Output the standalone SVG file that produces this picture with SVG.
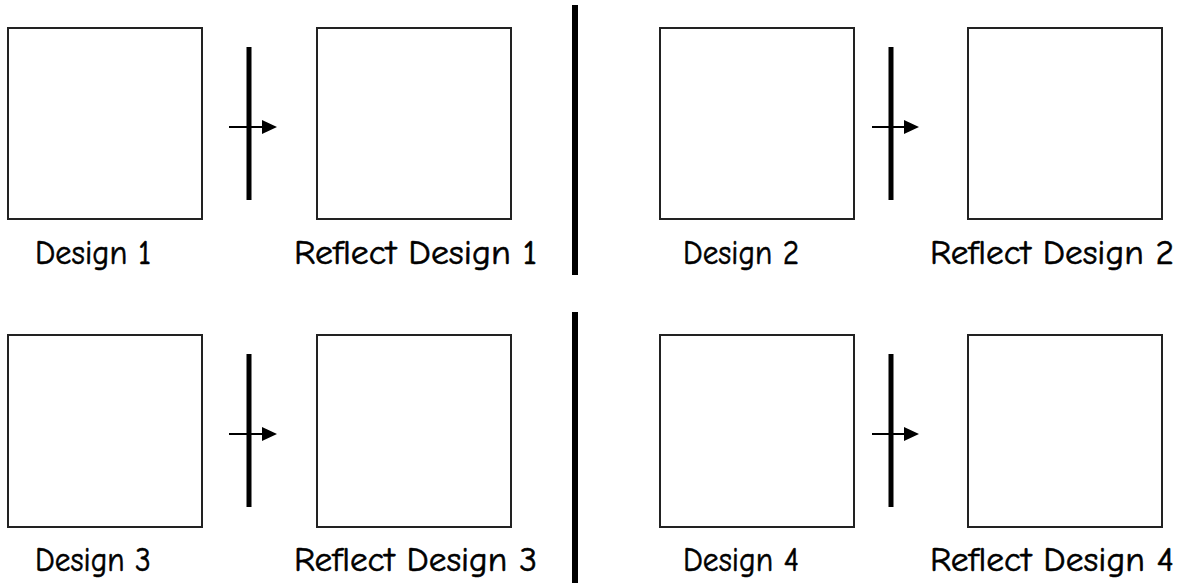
<svg xmlns="http://www.w3.org/2000/svg" width="1188" height="583" viewBox="0 0 1188 583">
<style>
.box{fill:#fff;stroke:#222;stroke-width:2}
.mirror{stroke:#000;stroke-width:5}
.div{stroke:#000;stroke-width:6}
.arr{stroke:#000;stroke-width:2}
.lbl{font-family:"Comic Sans MS","Comic Neue","Liberation Sans",sans-serif;font-size:35px;font-weight:400;fill:#000;stroke:#000;stroke-width:0.6}
</style>
<defs>
<marker id="ah" viewBox="0 0 10 10" refX="0" refY="5" markerWidth="15" markerHeight="14" markerUnits="userSpaceOnUse" orient="auto" preserveAspectRatio="none">
<path d="M0,0 L10,5 L0,10 Z" fill="#000"/>
</marker>
</defs>
<rect width="1188" height="583" fill="#fff"/>
<g id="dividers">
<line class="div" x1="575" y1="5" x2="575" y2="275"/>
<line class="div" x1="575" y1="312" x2="575" y2="583"/>
</g>
<g id="design1">
<rect class="box" x="8" y="28" width="194" height="191"/>
<text class="lbl" x="35" y="264" textLength="116" lengthAdjust="spacingAndGlyphs">Design 1</text>
</g>
<g id="reflect1">
<rect class="box" x="317" y="28" width="194" height="191"/>
<text class="lbl" x="294" y="264" textLength="243" lengthAdjust="spacingAndGlyphs">Reflect Design 1</text>
</g>
<g id="design2">
<rect class="box" x="660" y="28" width="194" height="191"/>
<text class="lbl" x="683" y="264" textLength="116" lengthAdjust="spacingAndGlyphs">Design 2</text>
</g>
<g id="reflect2">
<rect class="box" x="968" y="28" width="194" height="191"/>
<text class="lbl" x="930" y="264" textLength="244" lengthAdjust="spacingAndGlyphs">Reflect Design 2</text>
</g>
<g id="design3">
<rect class="box" x="8" y="335" width="194" height="192"/>
<text class="lbl" x="35" y="571" textLength="116" lengthAdjust="spacingAndGlyphs">Design 3</text>
</g>
<g id="reflect3">
<rect class="box" x="317" y="335" width="194" height="192"/>
<text class="lbl" x="294" y="571" textLength="243" lengthAdjust="spacingAndGlyphs">Reflect Design 3</text>
</g>
<g id="design4">
<rect class="box" x="660" y="335" width="194" height="192"/>
<text class="lbl" x="683" y="571" textLength="116" lengthAdjust="spacingAndGlyphs">Design 4</text>
</g>
<g id="reflect4">
<rect class="box" x="968" y="335" width="194" height="192"/>
<text class="lbl" x="930" y="571" textLength="244" lengthAdjust="spacingAndGlyphs">Reflect Design 4</text>
</g>
<g id="connectors">
<line class="mirror" x1="249" y1="47" x2="249" y2="200"/>
<line class="arr" x1="229" y1="127" x2="262" y2="127" marker-end="url(#ah)"/>
<line class="mirror" x1="891" y1="47" x2="891" y2="200"/>
<line class="arr" x1="872" y1="127" x2="904" y2="127" marker-end="url(#ah)"/>
<line class="mirror" x1="249" y1="354" x2="249" y2="507"/>
<line class="arr" x1="229" y1="434" x2="262" y2="434" marker-end="url(#ah)"/>
<line class="mirror" x1="891" y1="354" x2="891" y2="507"/>
<line class="arr" x1="872" y1="434" x2="904" y2="434" marker-end="url(#ah)"/>
</g>
</svg>
